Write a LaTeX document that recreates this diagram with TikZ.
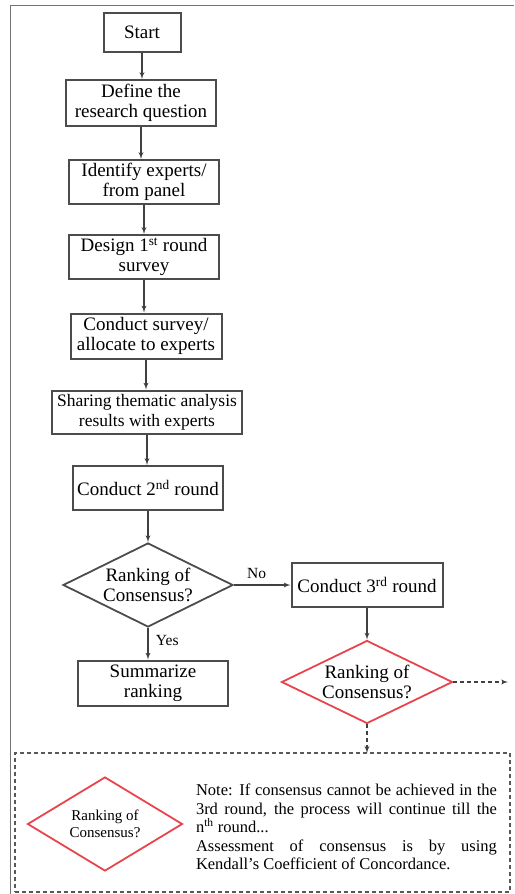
\documentclass[tikz,border=0pt]{standalone}
\usepackage{fontspec}
\setmainfont{Liberation Serif}
\usetikzlibrary{arrows,shapes.geometric}
\definecolor{consred}{HTML}{E8444E}

\begin{document}
\begin{tikzpicture}[x=1pt,y=-1pt,
    stepbox/.style={draw=black!70,line width=2pt,align=center,inner sep=0pt,
      font=\fontsize{19}{20}\selectfont},
    decision/.style={diamond,draw=black!70,line width=1.8pt,aspect=2,inner sep=0pt,
      align=center,font=\fontsize{19}{20}\selectfont},
    flow/.style={draw=black!75,line width=1.3pt,-latex'},
    dashflow/.style={flow,dash pattern=on 4pt off 3pt}]
    \useasboundingbox (0,0) rectangle (514,894);
    \draw[black!55,line width=1pt] (10,894) -- (10,5) -- (514,5);
    % main column
    \node[stepbox,minimum width=77pt,minimum height=39pt] (start) at (142,32) {Start};
    \node[stepbox,minimum width=150pt,minimum height=46pt] (define) at (141,103)
      {Define the\\research question};
    \node[stepbox,minimum width=150pt,minimum height=44pt] (identify) at (144,182)
      {Identify experts/\\from panel};
    \node[stepbox,minimum width=150pt,minimum height=44pt] (design) at (144,257)
      {Design 1\textsuperscript{st} round\\survey};
    \node[stepbox,minimum width=151pt,minimum height=45pt] (survey) at (146,336)
      {Conduct survey/\\allocate to experts};
    \node[stepbox,minimum width=190pt,minimum height=43pt,
      font=\fontsize{17.5}{20}\selectfont] (sharing) at (147,412)
      {Sharing thematic analysis\\results with experts};
    \node[stepbox,minimum width=150pt,minimum height=44pt] (second) at (148,488)
      {Conduct 2\textsuperscript{nd} round};
    \node[decision,minimum width=170pt,minimum height=84pt] (dec1) at (148,585)
      {Ranking of\\Consensus?};
    \node[stepbox,minimum width=150pt,minimum height=45pt] (summ) at (153,683)
      {Summarize\\ranking};
    % third round
    \node[stepbox,minimum width=151pt,minimum height=44pt] (third) at (367,585)
      {Conduct 3\textsuperscript{rd} round};
    \node[decision,draw=consred,minimum width=171pt,minimum height=83pt] (dec2)
      at (367,682) {Ranking of\\Consensus?};
    \coordinate (cont) at (508,682);
    \coordinate (notetop) at (367,753);
    % note
    \node[draw=black!65,line width=1.8pt,dash pattern=on 4pt off 3pt,
      minimum width=495pt,minimum height=139pt,inner sep=0pt] (notebox) at (262.5,822.5) {};
    \node[decision,draw=consred,minimum width=155pt,minimum height=94pt,
      font=\fontsize{15}{16.5}\selectfont] (dec3) at (105,824) {Ranking of\\Consensus?};
    \node[text width=301pt,align=justify,inner sep=0pt,
      font=\fontsize{16.5}{18.6}\selectfont] (note) at (346.5,827)
      {Note: If consensus cannot be achieved in the\linebreak
       3rd round, the process will continue till the\linebreak
       n\textsuperscript{th} round...\\
       Assessment of consensus is by using\linebreak
       Kendall's Coefficient of Concordance.};
    % connectors
    \draw[flow] (start) -- (start.south |- define.north);
    \draw[flow] (define.south) -- (define.south |- identify.north);
    \draw[flow] (identify.south) -- (identify.south |- design.north);
    \draw[flow] (design.south) -- (design.south |- survey.north);
    \draw[flow] (survey.south) -- (survey.south |- sharing.north);
    \draw[flow] (sharing.south) -- (sharing.south |- second.north);
    \draw[flow] (second) -- (dec1);
    \draw[flow] (dec1.south) -- node[right=4pt,pos=0.4,font=\fontsize{15.5}{17}\selectfont] {Yes}
      (dec1.south |- summ.north);
    \draw[flow] (dec1) -- node[above=2pt,pos=0.4,font=\fontsize{15.5}{17}\selectfont] {No} (third);
    \draw[flow] (third) -- (dec2);
    \draw[dashflow] (dec2) -- (cont);
    \draw[dashflow] (dec2) -- (notetop);
  \end{tikzpicture}
\end{document}
